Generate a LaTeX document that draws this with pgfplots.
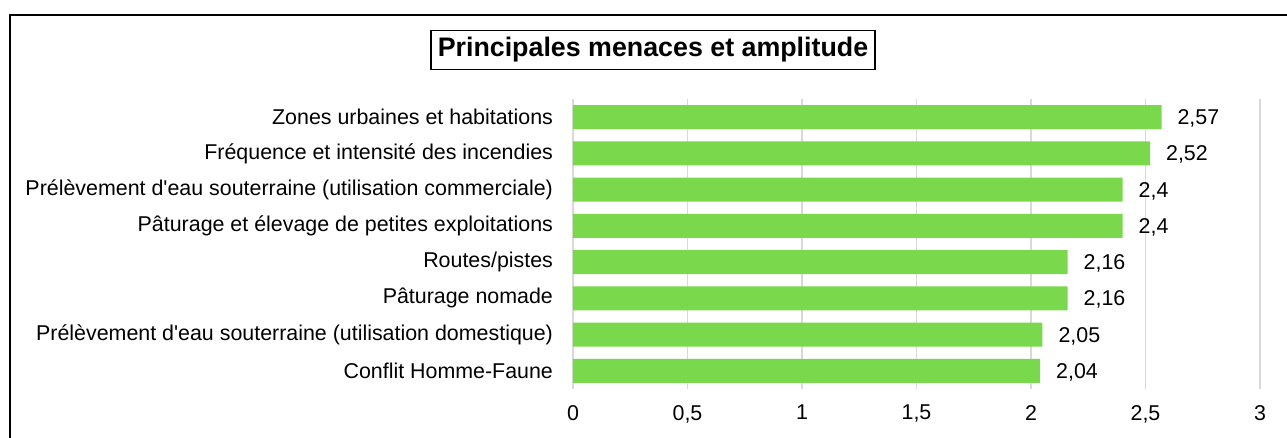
\documentclass[border=0pt]{standalone}
\usepackage{fontspec}
\setmainfont{Liberation Sans}
\usepackage{pgfplots}
\pgfplotsset{compat=1.18}
\definecolor{bargreen}{RGB}{122,216,76}
\definecolor{gridgray}{RGB}{217,217,217}
\begin{document}
\begin{tikzpicture}[x=1pt,y=1pt]
\useasboundingbox (0,0) rectangle (643.5,219);
\draw[line width=1pt] (5,-5) -- (5,211.5) -- (650,211.5);
\begin{axis}[
  at={(286.5pt,24.5pt)}, anchor=south west,
  scale only axis, width=343.5pt, height=145pt,
  xbar, bar width=12pt,
  xmin=0, xmax=3, ymin=-0.5, ymax=7.5,
  y dir=reverse,
  axis line style={draw=none},
  xtick={0,0.5,1,1.5,2,2.5,3},
  ytick={0,1,2,3,4,5,6,7},
  yticklabels={{Zones urbaines et habitations},{Fréquence et intensité des incendies},{Prélèvement d\textquotesingle{}eau souterraine (utilisation commerciale)},{Pâturage et élevage de petites exploitations},{Routes/pistes},{Pâturage nomade},{Prélèvement d\textquotesingle{}eau souterraine (utilisation domestique)},{Conflit Homme-Faune}},
  xmajorgrids, ymajorgrids=false,
  major grid style={gridgray, line width=0.75pt},
  major tick length=0pt,
  tick style={draw=none},
  tick label style={font=\fontsize{10.7}{12}\selectfont},
  yticklabel style={xshift=-6.5pt},
  xticklabel style={yshift=-4.5pt},
  /pgf/number format/assume math mode=true,
  /pgf/number format/use comma,
  nodes near coords,
  every node near coord/.append style={font=\fontsize{10.7}{12}\selectfont, xshift=4.5pt, yshift=-0.7pt, black},
  clip=false,
]
\addplot[fill=bargreen, draw=none] coordinates {
(2.57,0) (2.52,1) (2.4,2) (2.4,3) (2.16,4) (2.16,5) (2.05,6) (2.04,7)
};
\end{axis}
\node[draw, line width=0.75pt, inner xsep=3.5pt, minimum height=19.5pt, font=\fontsize{13.4}{15}\selectfont\bfseries] at (326.5,194) {Principales menaces et amplitude};
\end{tikzpicture}
\end{document}
